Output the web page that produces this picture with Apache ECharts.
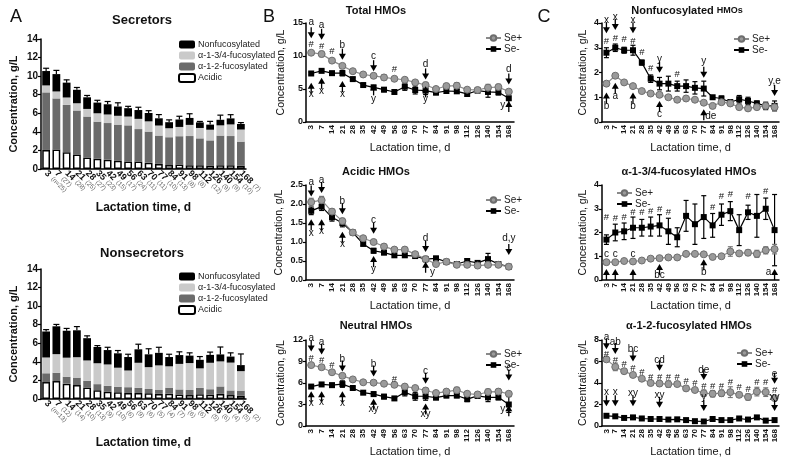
<!DOCTYPE html>
<html><head><meta charset="utf-8">
<script src="https://cdn.jsdelivr.net/npm/echarts@6/dist/echarts.min.js"></script>
<style>html,body{margin:0;padding:0;background:#fff}#c{width:791px;height:460px}</style>
</head><body><div id="c"></div>
<script>
const FONT = '"Liberation Sans", Arial, Helvetica, sans-serif';
const days = ['3','7','14','21','28','35','42','49','56','63','70','77','84','91','98','112','126','140','154','168'];
const secN = ['n=25','27','28','25','27','23','15','17','24','11','11','10','13','8','8','12','9','9','10','7'];
const nonN = ['n=13','12','14','10','13','9','10','6','9','6','5','4','7','6','6','5','6','4','5','2'];

// Secretors (Se+), g/L
const acidicSe  = [2.05,2.1,1.8,1.55,1.25,1.1,1.0,0.88,0.8,0.8,0.68,0.55,0.42,0.48,0.4,0.4,0.38,0.4,0.4,0.35];
const a12Se     = [6.2,5.5,5.1,4.75,4.4,4.0,3.95,3.9,3.9,3.5,3.35,3.05,3.0,3.05,3.15,2.9,2.7,3.2,3.15,2.6];
const a34Se     = [0.75,0.75,0.8,0.78,0.82,0.9,0.92,0.95,0.95,1.1,1.1,1.08,0.97,1.0,1.2,1.12,1.15,1.1,1.25,1.3];
const nonfucSe  = [1.55,1.87,1.6,1.45,1.25,1.15,1.1,1.0,0.9,0.95,0.9,0.78,0.65,0.8,0.75,0.6,0.55,0.6,0.65,0.6];
const totalSe   = [10.5,10.3,9.3,8.5,7.7,7.2,7.0,6.75,6.55,6.4,6.0,5.6,5.0,5.45,5.5,4.9,4.85,5.2,5.3,4.6];
const neutralSe = [8.5,8.2,7.5,7.0,6.5,6.1,6.05,5.9,5.75,5.5,5.3,4.95,4.6,4.8,5.0,4.5,4.4,4.75,4.8,4.5];
// Nonsecretors (Se-), g/L
const acidicNon  = [1.82,1.93,1.65,1.5,1.25,0.95,0.77,0.72,0.65,0.65,0.63,0.55,0.57,0.48,0.42,0.5,0.45,0.55,0.42,0.35];
const a12Non     = [0.95,0.9,0.75,0.8,0.7,0.65,0.65,0.6,0.62,0.55,0.45,0.42,0.65,0.55,0.55,0.7,0.6,0.8,0.5,0.55];
const a34Non     = [1.7,2.0,2.05,2.2,2.2,2.25,2.3,2.05,1.8,2.7,2.35,2.65,2.3,2.75,2.9,2.1,2.85,2.7,3.0,2.1];
const nonfucNon  = [2.8,3.0,2.9,2.9,2.4,1.75,1.55,1.55,1.45,1.45,1.38,1.35,1.0,0.95,0.8,0.92,0.85,0.75,0.65,0.65];
const totalNon   = [7.35,7.75,7.4,7.4,6.5,5.6,5.25,4.9,4.55,5.35,4.85,4.75,4.45,4.7,4.65,4.25,4.75,4.55,4.5,3.6];
const neutralNon = [5.5,5.8,5.7,5.85,5.3,4.65,4.45,4.1,3.85,4.7,4.15,4.15,3.95,4.25,4.25,3.75,4.2,4.0,4.0,3.0];

// Error bars (SEM)
const errTotalSe   = [0.3,0.4,0.3,0.25,0.2,0.25,0.3,0.4,0.2,0.3,0.25,0.4,0.25,0.35,0.45,0.1,0.35,0.5,0.4,0.15];
const errTotalNon  = [0.2,0.2,0.25,0.4,0.25,0.15,0.3,0.3,0.3,0.55,0.6,0.6,0.3,0.35,0.3,0.35,0.3,0.8,0.4,1.2];
const errAcidicSe  = [0.1,0.1,0.07,0.07,0.05,0.05,0.06,0.06,0.05,0.06,0.05,0.05,0.04,0.04,0.04,0.04,0.04,0.04,0.04,0.03];
const errAcidicNon = [0.1,0.1,0.1,0.1,0.05,0.05,0.06,0.05,0.05,0.05,0.06,0.07,0.05,0.05,0.05,0.06,0.05,0.15,0.06,0.05];
const errNeutralSe = [0.25,0.3,0.2,0.2,0.15,0.2,0.25,0.3,0.2,0.25,0.2,0.35,0.2,0.3,0.4,0.1,0.3,0.4,0.35,0.15];
const errNeutralNon= [0.2,0.2,0.25,0.45,0.2,0.15,0.3,0.3,0.25,0.5,0.55,0.55,0.25,0.3,0.3,0.35,0.3,0.6,0.35,1.1];
const errNonfucSe  = [0.06,0.06,0.05,0.05,0.04,0.04,0.04,0.04,0.04,0.04,0.04,0.05,0.04,0.05,0.05,0.05,0.05,0.05,0.06,0.08];
const errNonfucNon = [0.2,0.15,0.12,0.2,0.1,0.15,0.25,0.3,0.2,0.25,0.25,0.3,0.05,0.1,0.1,0.15,0.15,0.1,0.15,0.2];
const errA34Se     = [0.04,0.04,0.04,0.04,0.04,0.04,0.05,0.05,0.05,0.08,0.07,0.07,0.05,0.07,0.2,0.08,0.12,0.15,0.15,0.2];
const errA34Non    = [0.2,0.35,0.35,0.45,0.35,0.4,0.45,0.55,0.4,0.65,0.85,0.9,0.5,0.45,0.4,0.65,0.3,0.9,0.45,1.5];
const errA12Se     = [0.15,0.35,0.2,0.2,0.15,0.15,0.25,0.3,0.2,0.2,0.15,0.3,0.3,0.3,0.5,0.2,0.3,0.4,0.4,0.2];
const errA12Non    = [0.05,0.05,0.04,0.05,0.04,0.04,0.04,0.04,0.04,0.04,0.04,0.05,0.05,0.04,0.04,0.06,0.05,0.15,0.05,0.06];

// Annotations: [category index, value, kind, text]
const annTotal = [
  [0,15.05,'t','a'],[1,14.7,'t','a'],[3,11.7,'t','b'],[6,9.9,'t','c'],[11,8.7,'t','d'],[19,7.95,'t','d'],
  [0,12.7,'d'],[1,12.45,'d'],[3,9.45,'d'],[6,7.7,'d'],[11,6.45,'d'],[19,5.7,'d'],
  [0,11.8,'t','#'],[1,11.4,'t','#'],[2,10.7,'t','#'],[8,7.95,'t','#'],
  [0,5.95,'u'],[1,6.7,'u'],[3,6.2,'u'],[6,5.7,'u'],[11,5.4,'u'],[19,3.2,'u'],
  [0,4.2,'t','x'],[1,4.7,'t','x'],[3,4.2,'t','x'],[6,3.45,'t','y'],[11,3.45,'t','y'],[19,2.6,'tl','y']
];
const annAcidic = [
  [0,2.57,'t','a'],[1,2.63,'t','a'],[3,2.07,'t','b'],[6,1.57,'t','c'],[11,1.1,'t','d'],[19,1.1,'t','d,y'],
  [0,2.2,'d'],[1,2.29,'d'],[3,1.73,'d'],[6,1.22,'d'],[11,0.74,'d'],[19,0.66,'d'],
  [0,1.6,'u'],[1,1.6,'u'],[3,1.27,'u'],[6,0.63,'u'],[11,0.48,'u'],
  [0,1.22,'t','x'],[1,1.28,'t','x'],[3,0.93,'t','x'],[6,0.29,'t','y'],[11,0.2,'tr','y']
];
const annNeutral = [
  [0,12.2,'t','a'],[1,11.66,'t','a'],[3,9.32,'t','b'],[6,8.6,'t','b'],[11,7.6,'t','c'],[19,8.05,'t','c'],
  [0,10.4,'d'],[1,9.96,'d'],[3,7.6,'d'],[6,6.9,'d'],[11,5.9,'d'],[19,6.35,'d'],
  [0,9.5,'t','#'],[1,9.1,'t','#'],[2,8.5,'t','#'],[8,6.55,'t','#'],
  [0,4.85,'u'],[1,4.85,'u'],[3,4.85,'u'],[6,3.8,'u'],[11,3.15,'u'],[19,2.9,'u'],
  [0,3.15,'t','x'],[1,3.36,'t','x'],[3,3.15,'t','x'],[6,2.3,'t','xy'],[11,1.66,'t','xy'],[19,2.3,'tl','y']
];
const annNonfuc = [
  [0,4.12,'t','x'],[1,4.25,'t','x'],[3,4.12,'t','x'],[6,2.52,'t','y'],[11,2.45,'t','y'],[19,1.65,'t','y,e'],
  [0,3.59,'d'],[1,3.72,'d'],[3,3.59,'d'],[6,1.99,'d'],[11,1.79,'d'],[19,1.05,'d'],
  [0,3.25,'t','#'],[1,3.39,'t','#'],[2,3.35,'t','#'],[3,3.25,'t','#'],[4,2.8,'t','#'],[5,2.17,'t','#'],[8,1.92,'t','#'],
  [0,1.19,'u'],[1,1.59,'u'],[3,1.19,'u'],[6,0.85,'u'],[11,0.52,'u'],
  [0,0.65,'t','b'],[1,1.05,'t','a'],[3,0.65,'t','b'],[6,0.32,'t','c'],[11,0.22,'tr','de']
];
const annA34 = [
  [0,2.64,'t','#'],[1,2.6,'t','#'],[2,2.64,'t','#'],[3,2.84,'t','#'],[4,2.84,'t','#'],[5,2.9,'t','#'],[6,2.98,'t','#'],
  [7,2.85,'t','#'],[12,3.05,'t','#'],[13,3.52,'t','#'],[14,3.59,'t','#'],[16,3.52,'t','#'],[18,3.73,'t','#'],
  [0,1.07,'t','c'],[1,1.07,'t','c'],[3,1.07,'t','c'],
  [0,0.46,'u'],[1,0.46,'u'],[3,0.46,'u'],[6,0.67,'u'],[11,0.87,'u'],[19,0.46,'u'],
  [6,0.2,'t','bc'],[11,0.33,'t','b'],[19,0.33,'tl','a']
];
const annA12 = [
  [0,8.28,'t','a'],[1,7.77,'t','ab'],[3,7.14,'t','bc'],[6,6.13,'t','cd'],[11,5.19,'t','de'],[19,4.85,'t','e'],
  [0,7.14,'d'],[1,6.7,'d'],[3,6.0,'d'],[6,5.13,'d'],[11,4.27,'d'],[19,3.93,'d'],
  [0,6.7,'t','#'],[1,6.13,'t','#'],[2,5.7,'t','#'],[3,5.36,'t','#'],[4,4.99,'t','#'],[5,4.56,'t','#'],[6,4.56,'t','#'],
  [7,4.56,'t','#'],[8,4.56,'t','#'],[9,4.13,'t','#'],[10,3.93,'t','#'],[11,3.64,'t','#'],[12,3.7,'t','#'],[13,3.7,'t','#'],
  [14,4.1,'t','#'],[15,3.55,'t','#'],[16,3.41,'t','#'],[17,4.04,'t','#'],[18,4.04,'t','#'],[19,3.33,'t','#'],
  [0,3.12,'t','x'],[1,3.12,'t','x'],[3,3.08,'t','xy'],[6,2.9,'t','xy'],[11,2.7,'t','y'],[19,2.7,'t','xy'],
  [0,1.83,'d'],[1,1.83,'d'],[3,1.83,'d'],[6,1.69,'d'],[11,1.4,'d'],[19,1.4,'d']
];

const GREY = '#8a8a8a';
const chart = echarts.init(document.getElementById('c'), null, {renderer:'canvas'});

const gridsPos = [
  {left:41, top:39, width:205, height:130},
  {left:41, top:269, width:205, height:130},
  {left:306, top:23, width:208, height:99},
  {left:306, top:185, width:208, height:95},
  {left:306, top:340, width:208, height:86},
  {left:602, top:23, width:177, height:99},
  {left:602, top:185, width:177, height:95},
  {left:602, top:340, width:177, height:86}
];

function xA(i, counts, gap){
  return {type:'category', gridIndex:i, data:days, boundaryGap:true,
    axisLine:{lineStyle:{color:'#000', width:1.5}},
    axisTick:{alignWithLabel:true, length:3, lineStyle:{color:'#000', width:1.2}},
    axisLabel:{interval:0, rotate:-45, margin:3, fontFamily:FONT,
      formatter:(v, idx)=>'{b|'+v+'} {n|('+counts[idx]+')}',
      rich:{b:{fontSize:9, fontWeight:'bold', color:'#111', fontFamily:FONT}, n:{fontSize:6.5, color:'#666', fontFamily:FONT}}},
    name:'Lactation time, d', nameLocation:'middle', nameGap:gap,
    nameTextStyle:{fontSize:12, fontWeight:'bold', color:'#111', fontFamily:FONT}};
}
function xL(i, gap){
  return {type:'category', gridIndex:i, data:days, boundaryGap:true,
    axisLine:{lineStyle:{color:'#000', width:1.5}},
    axisTick:{alignWithLabel:true, length:3, lineStyle:{color:'#000', width:1}},
    axisLabel:{interval:0, rotate:90, margin:3, fontSize:8, fontWeight:'bold', color:'#111', fontFamily:FONT},
    name:'Lactation time, d', nameLocation:'middle', nameGap:gap,
    nameTextStyle:{fontSize:11, color:'#111', fontFamily:FONT}};
}
function yV(i, max, interval, gap, fs, bold, dec){
  return {type:'value', gridIndex:i, min:0, max:max, interval:interval,
    splitLine:{show:false},
    axisLine:{show:true, lineStyle:{color:'#000', width:1.5}},
    axisTick:{show:true, length:3, lineStyle:{color:'#000', width:1.2}},
    axisLabel:{fontSize:fs, fontWeight:'bold', color:'#111', margin:3, fontFamily:FONT,
      formatter: v => dec ? v.toFixed(1) : String(v)},
    name:'Concentration, g/L', nameLocation:'middle', nameGap:gap,
    nameTextStyle:{fontSize: bold?11:10.5, fontWeight: bold?'bold':'normal', color:'#111', fontFamily:FONT}};
}

function stackBar(name, xi, data, color, stack, border){
  return {type:'bar', name:name, xAxisIndex:xi, yAxisIndex:xi, stack:stack, data:data, barWidth:'76%',
    itemStyle:{color:color, borderColor:border?'#000':color, borderWidth:border?1.5:0}, z:2};
}

function errBars(xi, vals, errs, color, both){
  return {type:'custom', xAxisIndex:xi, yAxisIndex:xi, silent:true, z:both?3:1, clip:false,
    data: vals.map((v,i)=>[i, both ? v-errs[i] : v, v+errs[i]]),
    renderItem(params, api){
      const lo = api.coord([api.value(0), api.value(1)]);
      const hi = api.coord([api.value(0), api.value(2)]);
      const w = both ? 2.5 : 3;
      const st = {stroke:color, lineWidth:1.2};
      const ch = [
        {type:'line', shape:{x1:lo[0],y1:lo[1],x2:hi[0],y2:hi[1]}, style:st},
        {type:'line', shape:{x1:hi[0]-w,y1:hi[1],x2:hi[0]+w,y2:hi[1]}, style:st}];
      if (both) ch.push({type:'line', shape:{x1:lo[0]-w,y1:lo[1],x2:lo[0]+w,y2:lo[1]}, style:st});
      return {type:'group', children:ch};
    }};
}

function annSeries(xi, items){
  return {type:'custom', xAxisIndex:xi, yAxisIndex:xi, silent:true, z:10, clip:false,
    data: items.map(a=>[a[0], a[1]]),
    renderItem(params, api){
      const it = items[params.dataIndex];
      const p = api.coord([it[0], it[1]]);
      const k = it[2];
      if (k==='d' || k==='u'){
        const s = k==='d' ? -1 : 1;
        return {type:'group', children:[
          {type:'line', shape:{x1:p[0],y1:p[1]+s*5,x2:p[0],y2:p[1]+s*11}, style:{stroke:'#000', lineWidth:1.3}},
          {type:'polygon', shape:{points:[[p[0],p[1]],[p[0]-3.5,p[1]+s*6],[p[0]+3.5,p[1]+s*6]]}, style:{fill:'#000'}}
        ]};
      }
      const dx = k==='tl' ? -6 : (k==='tr' ? 7 : 0);
      return {type:'text', x:p[0]+dx, y:p[1], style:{text:it[3], fill:'#111', fontSize: it[3]==='#'?9.5:10,
        fontFamily:FONT, align:'center', verticalAlign:'middle'}};
    }};
}

function lineSe(name, xi, data){
  const plus = name==='Se+';
  return {type:'line', name:name, xAxisIndex:xi, yAxisIndex:xi, data:data, z: plus?5:4,
    symbol: plus?'circle':'rect', symbolSize: plus?7:6,
    lineStyle:{color: plus?GREY:'#000', width:1.2},
    itemStyle:{color: plus?'#9a9a9a':'#000', borderColor: plus?'#6e6e6e':'#000', borderWidth: plus?1:0}};
}

const series = [];
const stackSets = [
  {xi:0, ac:acidicSe, a12:a12Se, a34:a34Se, nf:nonfucSe, err:errTotalSe, st:'sec'},
  {xi:1, ac:acidicNon, a12:a12Non, a34:a34Non, nf:nonfucNon, err:errTotalNon, st:'non'}
];
stackSets.forEach(s=>{
  series.push(stackBar('Acidic', s.xi, s.ac, '#fff', s.st, true));
  series.push(stackBar('α-1-2-fucosylated', s.xi, s.a12, '#6b6b6b', s.st, false));
  series.push(stackBar('α-1-3/4-fucosylated', s.xi, s.a34, '#cacaca', s.st, false));
  series.push(stackBar('Nonfucosylated', s.xi, s.nf, '#000', s.st, false));
  const tot = s.ac.map((v,i)=>v + s.a12[i] + s.a34[i] + s.nf[i]);
  series.push(errBars(s.xi, tot, s.err, '#000', false));
});
const linePanels = [
  {xi:2, sp:totalSe, sn:totalNon, ep:errTotalSe, en:errTotalNon, ann:annTotal},
  {xi:3, sp:acidicSe, sn:acidicNon, ep:errAcidicSe, en:errAcidicNon, ann:annAcidic},
  {xi:4, sp:neutralSe, sn:neutralNon, ep:errNeutralSe, en:errNeutralNon, ann:annNeutral},
  {xi:5, sp:nonfucSe, sn:nonfucNon, ep:errNonfucSe, en:errNonfucNon, ann:annNonfuc},
  {xi:6, sp:a34Se, sn:a34Non, ep:errA34Se, en:errA34Non, ann:annA34},
  {xi:7, sp:a12Se, sn:a12Non, ep:errA12Se, en:errA12Non, ann:annA12}
];
linePanels.forEach(p=>{
  series.push(errBars(p.xi, p.sn, p.en, '#000', true));
  series.push(errBars(p.xi, p.sp, p.ep, '#777', true));
  series.push(lineSe('Se-', p.xi, p.sn));
  series.push(lineSe('Se+', p.xi, p.sp));
  series.push(annSeries(p.xi, p.ann));
});

function title(text, x, y, fs, bold, rich){
  return {text:text, left:x, top:y, textAlign:'center',
    textStyle:{fontSize:fs, fontWeight: bold?'bold':'normal', color:'#111', fontFamily:FONT, rich:rich}};
}
const legA = (top)=>({orient:'vertical', left:173, top:top, itemWidth:16, itemHeight:8, itemGap:2, selectedMode:false,
  data:['Nonfucosylated','α-1-3/4-fucosylated','α-1-2-fucosylated','Acidic'],
  textStyle:{fontSize:9, color:'#222', fontFamily:FONT, padding:[0,0,0,-2]}});
const legL = (left, top)=>({orient:'vertical', left:left, top:top, itemWidth:15, itemHeight:7, itemGap:1, selectedMode:false,
  data:['Se+','Se-'], textStyle:{fontSize:10, color:'#222', fontFamily:FONT, padding:[0,0,0,-2]}});

const option = {
  animation:false,
  backgroundColor:'#fff',
  title:[
    title('A', 11, 3, 18, false),
    title('Secretors', 137, 9, 13, true),
    title('Nonsecretors', 137, 242, 13, true),
    title('B', 264, 3, 18, false),
    title('Total HMOs', 371, 0, 11, true),
    title('Acidic HMOs', 371, 161, 11, true),
    title('Neutral HMOs', 371, 315, 11, true),
    title('C', 539, 3, 18, false),
    title('{a|Nonfucosylated} {b|HMOs}', 682, 0, 11, true,
      {a:{fontSize:11, fontWeight:'bold', color:'#111', fontFamily:FONT}, b:{fontSize:9, fontWeight:'bold', color:'#111', fontFamily:FONT}}),
    title('α-1-3/4-fucosylated HMOs', 684, 161, 11, true),
    title('α-1-2-fucosylated HMOs', 684, 315, 11, true)
  ],
  legend:[ legA(35), legA(267), legL(480,28), legL(480,190), legL(480,344), legL(728,29), legL(611,183), legL(731,343) ],
  grid: gridsPos,
  xAxis:[ xA(0, secN, 33), xA(1, nonN, 38), xL(2,20), xL(3,20), xL(4,20), xL(5,20), xL(6,20), xL(7,20) ],
  yAxis:[
    yV(0,14,2,22,10,true,false), yV(1,14,2,22,10,true,false),
    yV(2,15,5,19,9,false,false), yV(3,2.5,0.5,21,9,false,true), yV(4,12,3,19,9,false,false),
    yV(5,4,1,13,9,false,false), yV(6,4,1,13,9,false,false), yV(7,8,2,13,9,false,false)
  ],
  series: series
};
chart.setOption(option);
</script></body></html>
